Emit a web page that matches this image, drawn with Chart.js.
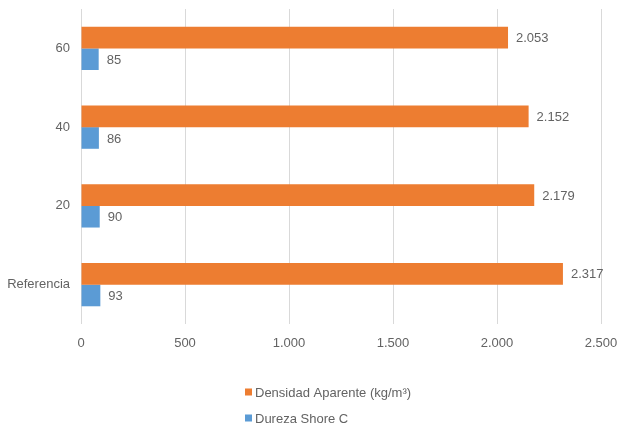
<!DOCTYPE html>
<html>
<head>
<meta charset="utf-8">
<script src="https://cdn.jsdelivr.net/npm/chart.js@4/dist/chart.umd.min.js"></script>
<style>
  html, body { margin: 0; padding: 0; background: #ffffff; }
  #wrap { width: 618px; height: 425px; position: relative; }
</style>
</head>
<body>
<div id="wrap"><canvas id="c"></canvas></div>
<script>
// Categories (top to bottom) and series values
const categories = ['60', '40', '20', 'Referencia'];
const densidadAparente = [2053, 2152, 2179, 2317];
const durezaShoreC = [85, 86, 90, 93];
const seriesLabels = ['Densidad Aparente (kg/m³)', 'Dureza Shore C'];
const axisMax = 2500;
const axisStep = 500;

const FONT = 'Liberation Sans, Arial, sans-serif';
const FONT_SIZE = 13;
const TEXT = '#636363';
const COLORS = ['#ED7D31', '#5B9BD5'];

// Thousands separator with a dot: 2317 -> "2.317"
function fmt(v) {
  return String(Math.round(v)).replace(/\B(?=(\d{3})+(?!\d))/g, '.');
}

// Value labels drawn just past the end of each bar
const valueLabels = {
  id: 'valueLabels',
  afterDatasetsDraw(chart) {
    const ctx = chart.ctx;
    ctx.save();
    ctx.font = FONT_SIZE + 'px ' + FONT;
    ctx.fillStyle = TEXT;
    ctx.textAlign = 'left';
    ctx.textBaseline = 'middle';
    chart.data.datasets.forEach((ds, di) => {
      chart.getDatasetMeta(di).data.forEach((bar, i) => {
        ctx.fillText(fmt(ds.data[i]), bar.x + 8, bar.y + 1);
      });
    });
    ctx.restore();
  }
};

// Stacked legend below the plot, one series per row, left-aligned
const stackedLegend = {
  id: 'stackedLegend',
  afterDraw(chart) {
    const ctx = chart.ctx;
    ctx.save();
    ctx.font = FONT_SIZE + 'px ' + FONT;
    const box = 7, gap = 3;
    const left = Math.round(chart.width / 2) - 64;
    const rows = [392, 418];
    chart.data.datasets.forEach((ds, i) => {
      const y = rows[i];
      ctx.fillStyle = ds.backgroundColor;
      ctx.fillRect(left, y - 3.5, box, box);
      ctx.fillStyle = TEXT;
      ctx.textAlign = 'left';
      ctx.textBaseline = 'middle';
      ctx.fillText(ds.label, left + box + gap, y + 1);
    });
    ctx.restore();
  }
};

new Chart(document.getElementById('c'), {
  type: 'bar',
  data: {
    labels: categories,
    datasets: [
      { label: seriesLabels[0], data: densidadAparente, backgroundColor: COLORS[0] },
      { label: seriesLabels[1], data: durezaShoreC, backgroundColor: COLORS[1] }
    ]
  },
  options: {
    indexAxis: 'y',
    responsive: true,
    maintainAspectRatio: false,
    animation: false,
    datasets: { bar: { categoryPercentage: 0.55, barPercentage: 1.0 } },
    layout: { padding: { top: 9, right: 17, bottom: 70, left: 0 } },
    plugins: {
      legend: { display: false },
      tooltip: { enabled: false }
    },
    scales: {
      x: {
        min: 0,
        max: axisMax,
        ticks: {
          stepSize: axisStep,
          color: TEXT,
          font: { family: FONT, size: FONT_SIZE },
          padding: 12,
          callback: v => fmt(v)
        },
        grid: { color: '#D9D9D9', drawTicks: false },
        border: { display: false },
        afterFit(scale) {
          scale.height = 31;
          scale.paddingLeft = 0;
          scale.paddingRight = 0;
        }
      },
      y: {
        ticks: {
          color: TEXT,
          font: { family: FONT, size: FONT_SIZE },
          padding: 11
        },
        grid: { display: false, drawTicks: false },
        border: { display: false },
        afterFit(scale) {
          scale.width = 81;
          scale.paddingTop = 0;
          scale.paddingBottom = 0;
        }
      }
    }
  },
  plugins: [valueLabels, stackedLegend]
});
</script>
</body>
</html>
